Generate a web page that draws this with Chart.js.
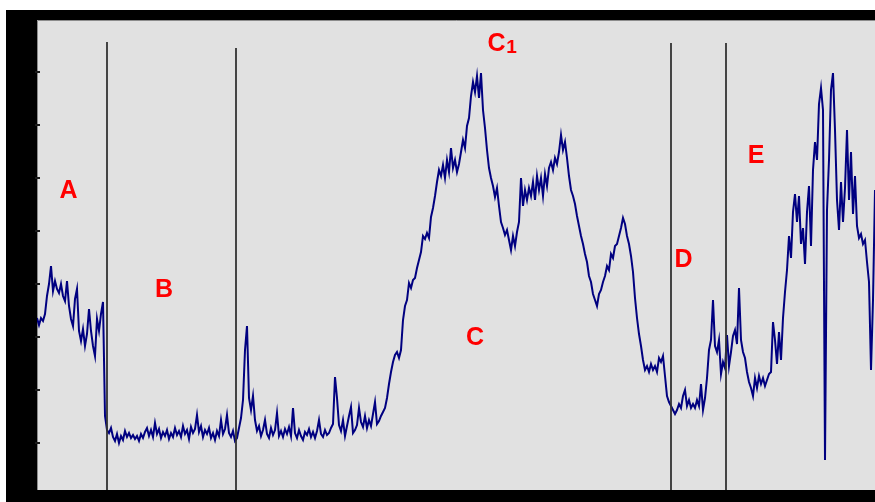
<!DOCTYPE html>
<html><head><meta charset="utf-8">
<script src="https://cdn.jsdelivr.net/npm/chart.js@4.4.1/dist/chart.umd.min.js"></script>
<style>
html,body{margin:0;padding:0;background:#fff;overflow:hidden}
#wrap{position:absolute;left:0;top:0;width:875px;height:502px}
</style></head><body>
<div id="wrap"><canvas id="c" width="875" height="502"></canvas></div>
<script>
// Signal readings (one sample per step)
const signal = [
172,165,172,169,176,194,206,224,199,209,201,197,206,194,189,209,184,171,164,191,201,159,149,161,144,156,181,159,144,134,171,159,176,188,74,
60,57,62,53,49,56,47,54,50,59,
53,57,52,55,51,54,49,56,52,58,
62,54,60,53,67,56,61,52,58,54,
60,51,57,53,62,55,59,53,64,56,
60,51,63,57,61,75,58,64,53,60,
56,62,52,57,50,59,54,70,56,61,
75,57,53,59,49,
52,62,72,90,140,164,92,80,94,70,
59,64,54,60,70,56,52,62,55,60,
77,54,59,53,61,56,63,54,82,57,
52,60,54,50,58,55,61,53,58,52,
59,70,56,53,60,55,57,62,66,113,
92,65,59,70,54,64,74,83,57,60,
65,82,68,63,74,62,70,64,76,88,
66,69,74,78,82,92,106,118,128,135,
138,132,140,
170,184,190,207,202,210,212,222,230,238,
254,251,257,252,273,282,294,308,320,314,
325,312,330,318,342,322,330,318,326,338,
350,342,364,372,394,408,398,414,392,417,
380,362,340,322,312,304,293,302,284,268,
262,255,260,250,240,254,244,258,268,312,
284,300,290,302,294,308,290,314,300,312,
294,316,304,322,328,320,332,326,338,355,
340,348,332,314,300,294,286,274,264,254,
246,236,228,214,208,196,190,184,196,200,
208,214,224,220,236,232,244,246,254,262,
272,266,254,246,234,218,192,
172,156,144,130,120,124,118,126,120,124,
118,132,128,134,114,94,88,84,80,76,
80,86,82,94,100,84,90,82,86,82,
90,84,106,80,92,112,140,150,190,144,
138,150,116,128,122,155,124,138,154,160,
146,202,150,138,132,118,108,102,94,112,
102,114,106,112,104,110,116,118,168,150,
126,158,130,172,198,220,254,232,278,296,
268,294,246,262,226,278,304,244,320,348,
330,386,402,380,30,280,330,400,417,360,
290,260,308,268,302,360,290,338,276,314,
264,252,256,246,250,228,208,120,190,300
];
// Y-axis tick marks (value units)
const tickValues = [47,100,153,206,259,312,365,418];
// Phase boundaries (sample index) and the level at which each marker starts
const boundaryX = [35, 99.5, 317, 344.5];
const boundaryTop = [448, 442, 447, 447];
// Phase names
const regionNames = ['A','B','C','C','D','E'];
const regionSub = ['', '', '', '1', '', ''];
const labelAt = [[15.75,292],[63.5,193],[219,145],[229.75,439],[323.25,223],[359.5,327]];
const subAt = [null,null,null,[237.25,437],null,null];

const signalData = signal.map((v,i)=>({x:i,y:v}));
const boundaryDatasets = boundaryX.map((bx,k)=>({
  data:[{x:bx,y:boundaryTop[k]},{x:bx,y:0}],
  borderColor:'#333333', borderWidth:1.8, pointRadius:0, order:0, clip:false
}));

const frame = {
  id:'frame',
  beforeDraw(chart){
    const ctx=chart.ctx, a=chart.chartArea;
    ctx.save();
    ctx.fillStyle='#ffffff'; ctx.fillRect(0,0,875,502);
    ctx.fillStyle='#000000'; ctx.fillRect(6,10,869,492);
    ctx.fillStyle='#e1e1e1'; ctx.fillRect(a.left,a.top,a.right-a.left,a.bottom-a.top);
    ctx.strokeStyle='#8c8c8c'; ctx.lineWidth=1;
    ctx.beginPath();
    ctx.moveTo(a.left+0.5,a.bottom); ctx.lineTo(a.left+0.5,a.top+0.5); ctx.lineTo(a.right,a.top+0.5);
    ctx.stroke();
    ctx.restore();
  },
  afterDatasetsDraw(chart){
    const ctx=chart.ctx, a=chart.chartArea, ys=chart.scales.y, xs=chart.scales.x;
    ctx.save();
    ctx.fillStyle='#1a1a1a';
    tickValues.forEach(v=>{
      const y=Math.round(ys.getPixelForValue(v));
      ctx.fillRect(a.left-2,y-1,5,2);
    });
    ctx.fillStyle='#ff0000';
    ctx.textBaseline='alphabetic';
    ctx.textAlign='center';
    regionNames.forEach((n,k)=>{
      ctx.font='bold 25px "Liberation Sans", Arial, sans-serif';
      ctx.fillText(n,xs.getPixelForValue(labelAt[k][0]),ys.getPixelForValue(labelAt[k][1]));
      if(regionSub[k]){
        ctx.font='bold 19px "Liberation Sans", Arial, sans-serif';
        ctx.fillText(regionSub[k],xs.getPixelForValue(subAt[k][0]),ys.getPixelForValue(subAt[k][1]));
      }
    });
    ctx.restore();
  }
};

new Chart(document.getElementById('c'),{
  type:'line',
  data:{datasets:[
    {data:signalData, borderColor:'#000080', borderWidth:2, pointRadius:0, tension:0, order:1},
    ...boundaryDatasets
  ]},
  options:{
    responsive:false, animation:false, devicePixelRatio:1,
    layout:{padding:{left:37,top:20,right:0,bottom:12}},
    plugins:{legend:{display:false},tooltip:{enabled:false}},
    scales:{
      x:{type:'linear',display:false,min:0,max:signal.length-1},
      y:{type:'linear',display:false,min:0,max:470}
    }
  },
  plugins:[frame]
});
</script>
</body></html>
